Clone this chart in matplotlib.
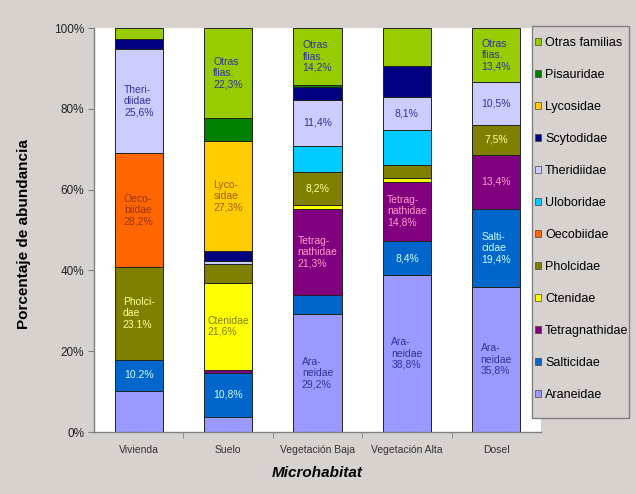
import numpy as np
import matplotlib
matplotlib.use("Agg")
import matplotlib.pyplot as plt
from matplotlib.patches import Patch, Rectangle
from matplotlib.ticker import FixedLocator

plt.rcParams['font.family'] = ['Liberation Sans', 'DejaVu Sans']

habitats = ['Vivienda', 'Suelo', 'Vegetación Baja', 'Vegetación Alta', 'Dosel']

# familias, de abajo hacia arriba
families = ['Araneidae', 'Salticidae', 'Tetragnathidae', 'Ctenidae', 'Pholcidae',
            'Oecobiidae', 'Uloboridae', 'Theridiidae', 'Scytodidae', 'Lycosidae',
            'Pisauridae', 'Otras familias']

araneidae      = [10.2, 3.8, 29.2, 38.8, 35.8]
salticidae     = [7.6, 10.8, 4.7, 8.4, 19.4]
tetragnathidae = [0, 0.8, 21.3, 14.8, 13.4]
ctenidae       = [0, 21.6, 1.0, 0.8, 0]
pholcidae      = [23.1, 4.6, 8.2, 3.3, 7.5]
oecobiidae     = [28.2, 0, 0, 0, 0]
uloboridae     = [0, 0, 6.5, 8.7, 0]
theridiidae    = [25.6, 0.8, 11.4, 8.1, 10.5]
scytodidae     = [2.7, 2.4, 3.0, 7.7, 0]
lycosidae      = [0, 27.3, 0, 0, 0]
pisauridae     = [0, 5.6, 0.5, 0, 0]
otras          = [2.6, 22.3, 14.2, 9.4, 13.4]

values = [araneidae, salticidae, tetragnathidae, ctenidae, pholcidae, oecobiidae,
          uloboridae, theridiidae, scytodidae, lycosidae, pisauridae, otras]

colors = ['#9999FF', '#0066CC', '#800080', '#FFFF00', '#808000', '#FF6600',
          '#00CCFF', '#CCCCFF', '#000080', '#FFCC00', '#008000', '#99CC00']

# etiquetas dentro de las barras
lab_araneidae = ['', '', 'Ara-\nneidae\n29,2%', 'Ara-\nneidae\n38,8%', 'Ara-\nneidae\n35,8%']
lab_salticidae = ['10.2%', '10,8%', '', '8,4%', 'Salti-\ncidae\n19,4%']
lab_tetragnathidae = ['', '', 'Tetrag-\nnathidae\n21,3%', 'Tetrag-\nnathidae\n14,8%', '13,4%']
lab_ctenidae = ['', 'Ctenidae\n21,6%', '', '', '']
lab_pholcidae = ['Pholci-\ndae\n23.1%', '', '8,2%', '', '7,5%']
lab_oecobiidae = ['Oeco-\nbiidae\n28,2%', '', '', '', '']
lab_theridiidae = ['Theri-\ndiidae\n25,6%', '', '11,4%', '8,1%', '10,5%']
lab_lycosidae = ['', 'Lyco-\nsidae\n27,3%', '', '', '']
lab_otras = ['', 'Otras\nflias.\n22,3%', 'Otras\nflias.\n14,2%', '', 'Otras\nflias.\n13,4%']
empty = [''] * 5

labels = [lab_araneidae, lab_salticidae, lab_tetragnathidae, lab_ctenidae, lab_pholcidae,
          lab_oecobiidae, empty, lab_theridiidae, empty, lab_lycosidae, empty, lab_otras]
label_colors = ['#333399', '#CCFFFF', '#FF99CC', '#808000', '#FFFF99', '#993300',
                '#333399', '#333399', '#FFFFFF', '#996600', '#FFFFFF', '#333399']

bg = '#D8D2CE'
fig = plt.figure(figsize=(6.36, 4.94), dpi=100, facecolor=bg)
ax = fig.add_axes([94/636, 62/494, 447/636, 404/494])
ax.set_facecolor('white')

x = np.arange(len(habitats))
bottom = np.zeros(len(habitats))
for vals, col, labs, lc in zip(values, colors, labels, label_colors):
    vals = np.array(vals, dtype=float)
    ax.bar(x, vals, 0.54, bottom=bottom, color=col, edgecolor='#222222', linewidth=0.7)
    for i in range(len(habitats)):
        if labs[i]:
            ax.text(x[i], bottom[i] + vals[i] / 2, labs[i], ha='center', va='center',
                    multialignment='left', fontsize=7.5, color=lc, linespacing=1.15)
    bottom += vals

ax.set_xlim(-0.5, 4.5)
ax.set_ylim(0, 100)
ax.set_yticks(np.arange(0, 101, 20))
ax.set_yticklabels([f'{v}%' for v in range(0, 101, 20)], fontsize=8.5, color='#222222')
ax.set_xticks(x)
ax.set_xticklabels(habitats, fontsize=7.5, color='#333333')
ax.xaxis.set_minor_locator(FixedLocator([0.5, 1.5, 2.5, 3.5]))
ax.tick_params(axis='x', which='major', length=0, pad=9)
ax.tick_params(axis='x', which='minor', length=4, color='#808080')
ax.tick_params(axis='y', length=4, color='#808080', pad=3)
for s in ['top', 'right']:
    ax.spines[s].set_visible(False)
for s in ['left', 'bottom']:
    ax.spines[s].set_color('#808080')
    ax.spines[s].set_linewidth(1)

ax.set_ylabel('Porcentaje de abundancia', fontsize=11, fontweight='bold')
ax.yaxis.set_label_coords(-0.142, 0.49)
ax.set_xlabel('Microhabitat', fontsize=11, fontweight='bold', style='italic', labelpad=8)

# leyenda
fig.patches.append(Rectangle((532/636, 1 - 418/494), 97/636, 392/494,
                             transform=fig.transFigure, facecolor=bg,
                             edgecolor='#808080', linewidth=1, zorder=4))
handles = [Patch(facecolor=c, edgecolor='#444444', linewidth=0.5) for c in colors]
leg = fig.legend(handles[::-1], families[::-1], loc='upper left',
                 bbox_to_anchor=(535/636, 1 - 37/494), fontsize=9, frameon=False,
                 handlelength=0.5, handleheight=0.5, handletextpad=0.3,
                 labelspacing=1.6, borderpad=0, borderaxespad=0)
leg.set_zorder(5)

fig.savefig('out.png', dpi=100, facecolor=bg)
